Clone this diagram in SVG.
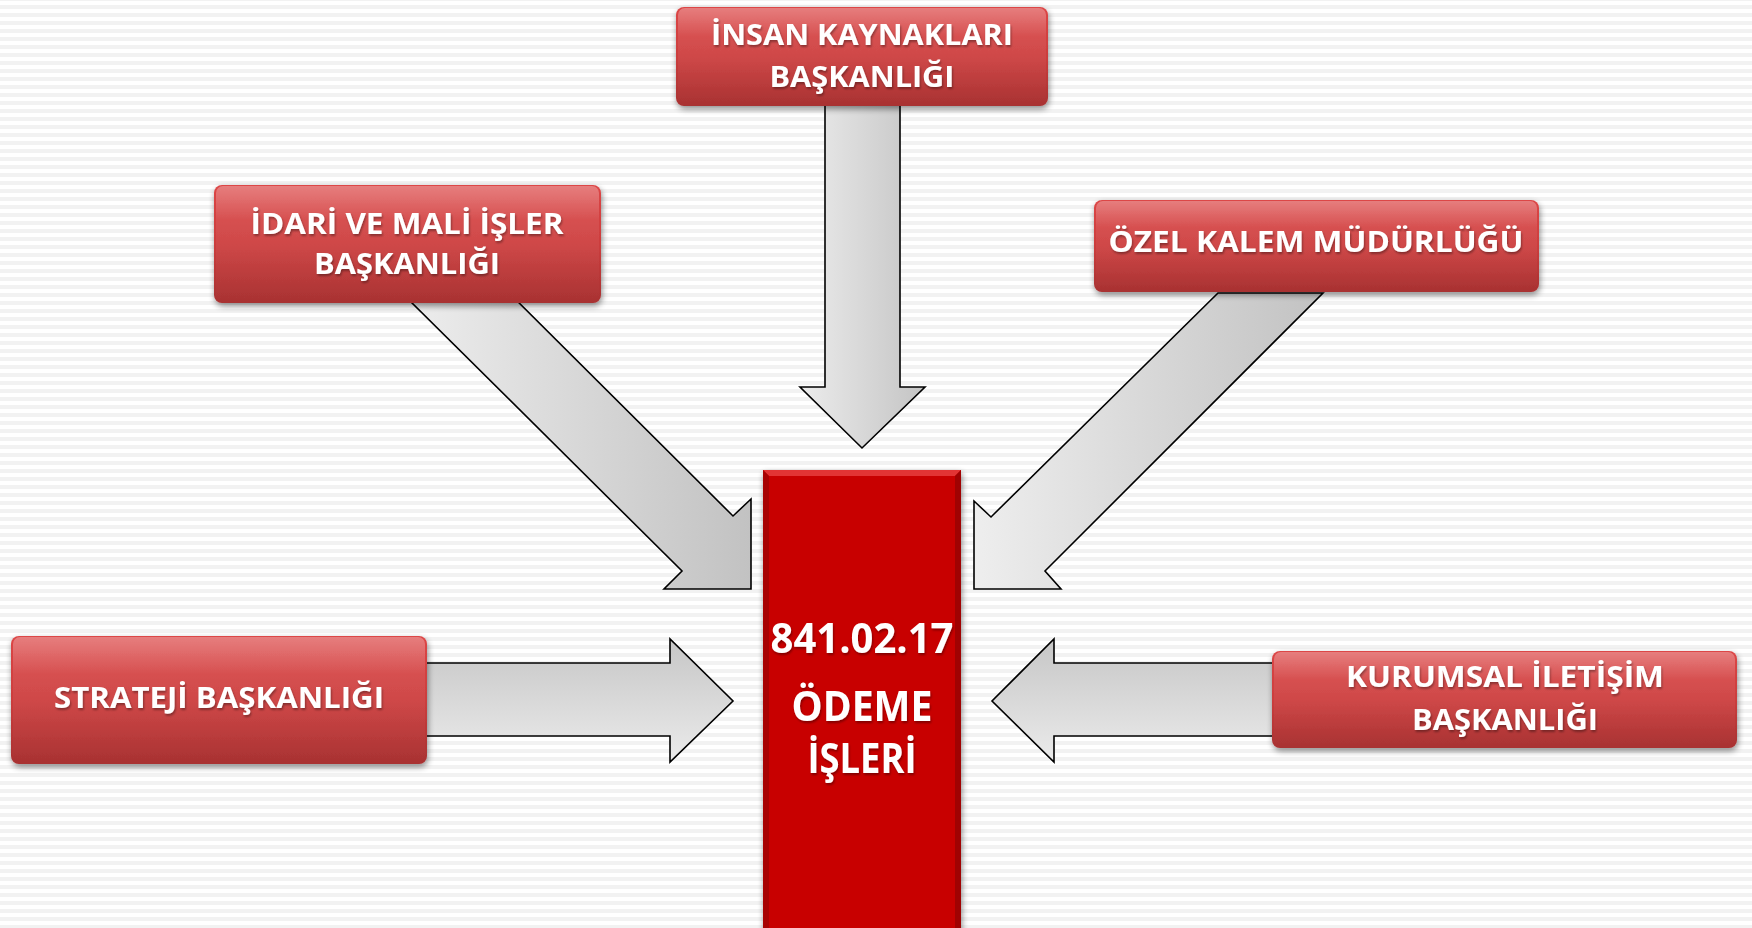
<svg xmlns="http://www.w3.org/2000/svg" width="1752" height="928" viewBox="0 0 1752 928">
<defs>
  <pattern id="stripes" x="0" y="5" width="8" height="8" patternUnits="userSpaceOnUse">
    <rect x="0" y="0" width="8" height="4" fill="#f2f2f2"/>
  </pattern>
  <linearGradient id="redGrad" x1="0" y1="0" x2="0" y2="1">
    <stop offset="0" stop-color="#dc4646"/>
    <stop offset="0.5" stop-color="#cc3d3d"/>
    <stop offset="1" stop-color="#a83232"/>
  </linearGradient>
  <linearGradient id="hiGrad" x1="0" y1="0" x2="0" y2="1">
    <stop offset="0" stop-color="#ffffff" stop-opacity="0.3"/>
    <stop offset="0.3" stop-color="#ffffff" stop-opacity="0.08"/>
    <stop offset="1" stop-color="#ffffff" stop-opacity="0"/>
  </linearGradient>
  <linearGradient id="grayV" x1="0" y1="0" x2="1" y2="0">
    <stop offset="0" stop-color="#ececec"/>
    <stop offset="1" stop-color="#c4c4c4"/>
  </linearGradient>
  <linearGradient id="grayH" x1="0" y1="0" x2="0" y2="1">
    <stop offset="0" stop-color="#c6c6c6"/>
    <stop offset="1" stop-color="#ebebeb"/>
  </linearGradient>
  <linearGradient id="grayD" x1="0" y1="0" x2="1" y2="0">
    <stop offset="0" stop-color="#eeeeee"/>
    <stop offset="1" stop-color="#c2c2c2"/>
  </linearGradient>
  <filter id="shadow" x="-10%" y="-20%" width="120%" height="150%">
    <feGaussianBlur in="SourceAlpha" stdDeviation="3"/>
    <feOffset dx="1" dy="3" result="b"/>
    <feComponentTransfer><feFuncA type="linear" slope="0.45"/></feComponentTransfer>
    <feMerge><feMergeNode/><feMergeNode in="SourceGraphic"/></feMerge>
  </filter>
  <filter id="tshadow" x="-5%" y="-20%" width="110%" height="150%">
    <feGaussianBlur in="SourceAlpha" stdDeviation="1"/>
    <feOffset dx="1" dy="1.5"/>
    <feComponentTransfer><feFuncA type="linear" slope="0.35"/></feComponentTransfer>
    <feMerge><feMergeNode/><feMergeNode in="SourceGraphic"/></feMerge>
  </filter>
</defs>
<style>
  .box { fill: url(#redGrad); filter: url(#shadow); }
  .hi { fill: url(#hiGrad); }
  .lbl { font-family: "Open Sans", "Liberation Sans", sans-serif; font-weight: bold; font-size: 28px; fill: #ffffff; text-anchor: middle; filter: url(#tshadow); }
  .big { font-size: 41px; }
  .arrow { stroke: #000000; stroke-width: 1.6; stroke-linejoin: miter; }
</style>

<rect width="1752" height="928" fill="#ffffff"/>
<rect width="1752" height="928" fill="url(#stripes)"/>

<g id="connectors">
  <polygon class="arrow" fill="url(#grayV)" points="825,100 900,100 900,387 925,387 862,448 800,387 825,387"/>
  <polygon class="arrow" fill="url(#grayD)" points="400,291 507,291 733,516 751,499 751,589 664,589 682,571"/>
  <polygon class="arrow" fill="url(#grayD)" points="1218,293 1323,293 1045,571 1061,589 974,589 974,501 991,517"/>
  <polygon class="arrow" fill="url(#grayH)" points="420,663 670,663 670,639 733,701 670,762 670,736 420,736"/>
  <polygon class="arrow" fill="url(#grayH)" points="1280,663 1054,663 1054,639 992,701 1054,762 1054,736 1280,736"/>
</g>

<g id="node-insan">
  <rect class="box" x="676" y="7" width="372" height="99" rx="8"/>
  <rect class="hi" x="678" y="8" width="368" height="96" rx="7"/>
  <text class="lbl" x="862" y="45" textLength="302" lengthAdjust="spacingAndGlyphs">İNSAN KAYNAKLARI</text>
  <text class="lbl" x="862" y="87" textLength="185" lengthAdjust="spacingAndGlyphs">BAŞKANLIĞI</text>
</g>

<g id="node-idari">
  <rect class="box" x="214" y="185" width="387" height="118" rx="8"/>
  <rect class="hi" x="216" y="186" width="383" height="115" rx="7"/>
  <text class="lbl" x="407" y="234" textLength="313" lengthAdjust="spacingAndGlyphs">İDARİ VE MALİ İŞLER</text>
  <text class="lbl" x="407" y="274" textLength="186" lengthAdjust="spacingAndGlyphs">BAŞKANLIĞI</text>
</g>

<g id="node-ozel">
  <rect class="box" x="1094" y="200" width="445" height="92" rx="8"/>
  <rect class="hi" x="1096" y="201" width="441" height="89" rx="7"/>
  <text class="lbl" x="1316" y="252" textLength="415" lengthAdjust="spacingAndGlyphs">ÖZEL KALEM MÜDÜRLÜĞÜ</text>
</g>

<g id="node-strateji">
  <rect class="box" x="11" y="636" width="416" height="128" rx="8"/>
  <rect class="hi" x="13" y="637" width="412" height="125" rx="7"/>
  <text class="lbl" x="219" y="708" textLength="330" lengthAdjust="spacingAndGlyphs">STRATEJİ BAŞKANLIĞI</text>
</g>

<g id="node-kurumsal">
  <rect class="box" x="1272" y="651" width="465" height="97" rx="8"/>
  <rect class="hi" x="1274" y="652" width="461" height="94" rx="7"/>
  <text class="lbl" x="1505" y="687" textLength="318" lengthAdjust="spacingAndGlyphs">KURUMSAL İLETİŞİM</text>
  <text class="lbl" x="1505" y="730" textLength="186" lengthAdjust="spacingAndGlyphs">BAŞKANLIĞI</text>
</g>

<g id="node-odeme">
  <rect x="763" y="470" width="198" height="470" fill="#c80606" filter="url(#shadow)"/>
  <polygon points="763,470 961,470 955,476 769,476" fill="#e23434"/>
  <polygon points="763,470 769,476 769,940 763,940" fill="#a80303"/>
  <polygon points="961,470 955,476 955,940 961,940" fill="#a00202"/>
  <text class="lbl big" x="862" y="653" textLength="183" lengthAdjust="spacingAndGlyphs">841.02.17</text>
  <text class="lbl big" x="862" y="721" textLength="141" lengthAdjust="spacingAndGlyphs">ÖDEME</text>
  <text class="lbl big" x="862" y="773" textLength="109" lengthAdjust="spacingAndGlyphs">İŞLERİ</text>
</g>
</svg>
